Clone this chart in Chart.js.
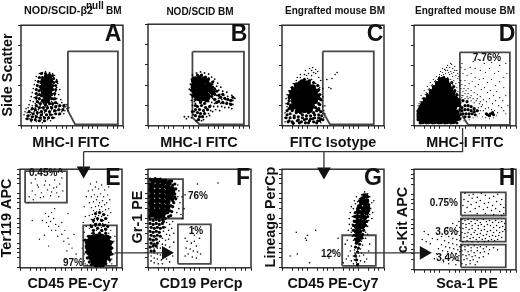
<!DOCTYPE html>
<html>
<head>
<meta charset="utf-8">
<script src="https://cdn.jsdelivr.net/npm/chart.js@4"></script>
<style>
html, body { margin: 0; padding: 0; background: #fff; }
body { position: relative; width: 520px; height: 292px; overflow: hidden; }
canvas { position: absolute; }
</style>
</head>
<body>
<script>
// events, x/y in axis units (0-100)
const aCore = [[25,49],[28,48],[23,45],[26,45],[29,45],[22,41],[25,41],[28,41],[23,37],[26,37],[29,38],[22,33],[25,33],[28,34],[24,29],[27,29],[23,25],[26,25]];
const aMid = [[20,52],[24,52],[28,51],[31,50],[18,48],[21,48],[32,47],[17,44],[20,44],[32,43],[35,44],[16,40],[19,39],[31,40],[34,40],[15,36],[18,35],[20,37],[31,36],[34,36],[15,32],[18,31],[20,30],[30,31],[33,32],[15,28],[18,27],[21,25],[30,27],[33,27],[16,24],[19,22],[24,21],[28,22],[31,22],[34,23],[15,20],[18,18],[22,18],[26,18],[30,18],[34,19],[38,20],[42,20],[11,17],[14,16],[20,14],[24,15],[28,14],[33,15],[37,16],[41,16],[8,14],[12,12],[16,13],[20,11],[25,11],[29,11],[34,12],[38,12],[7,10],[11,9],[15,9],[19,8],[23,8],[27,8],[31,8],[6,7],[10,6],[14,6],[18,5],[23,5]];
const aDust = [[18,52],[21,53],[24,54],[28,53],[31,52],[33,50],[15,49],[19,48],[32,47],[35,46],[14,45],[17,44],[20,46],[33,43],[36,42],[13,41],[16,40],[19,42],[32,40],[35,38],[12,37],[15,36],[18,38],[20,35],[31,36],[34,34],[38,36],[11,33],[14,32],[17,34],[19,31],[31,32],[33,30],[37,31],[10,29],[13,28],[16,30],[18,27],[21,29],[30,28],[32,26],[35,27],[39,26],[9,25],[12,24],[15,26],[17,23],[20,24],[22,22],[25,22],[28,23],[30,24],[33,23],[36,22],[40,23],[43,21],[8,21],[11,20],[14,22],[16,19],[19,20],[21,18],[24,19],[26,20],[29,19],[31,20],[34,18],[37,19],[39,20],[42,18],[44,19],[45,17],[5,17],[7,18],[10,16],[12,17],[15,15],[17,16],[20,15],[22,16],[25,16],[27,14],[30,16],[32,14],[35,15],[38,16],[40,14],[43,15],[4,14],[6,13],[8,15],[11,12],[13,14],[16,11],[18,13],[21,12],[23,13],[26,11],[28,12],[31,11],[34,12],[37,11],[3,11],[6,10],[9,11],[12,9],[14,10],[17,8],[19,10],[22,9],[24,8],[27,9],[30,8],[33,8],[5,7],[8,7],[11,6],[14,7],[17,5],[20,6],[23,5],[26,6],[29,5],[10,4],[15,4],[21,3],[42,12],[46,15],[45,21],[47,18],[24,40],[30,41],[21,38],[27,36],[24,32],[30,31],[21,26],[27,25],[23,21],[18,22],[14,18],[10,13],[7,9],[35,20],[31,18],[26,17],[20,18]];

const bCore = [[47,46],[51,47],[55,46],[46,42],[50,43],[54,43],[58,44],[45,38],[49,39],[53,39],[57,39],[61,40],[46,34],[50,35],[54,35],[58,35],[62,35],[47,30],[51,31],[55,31],[59,30],[64,33],[50,27],[54,27],[58,26]];
const bMid = [[49,19],[53,20],[57,18],[47,16],[51,16],[55,15],[59,16],[49,13],[52,12],[56,12],[47,10],[51,9],[54,9],[50,6],[52,23],[56,22],[44,44],[44,40],[43,35],[44,30],[47,26],[52,24],[60,27],[63,29],[66,31],[66,36],[64,38],[64,43],[60,46],[57,48],[53,50],[49,50],[45,47],[68,34],[70,30],[72,28],[74,31],[76,27],[79,26],[82,25],[84,28],[70,24],[74,23],[78,22],[82,21],[66,26],[68,23],[47,20],[61,19],[44,14]];
const bDust = [[44,50],[48,52],[52,53],[56,52],[60,51],[63,48],[66,46],[43,46],[60,47],[65,44],[69,42],[42,41],[64,41],[68,39],[72,38],[41,36],[44,35],[66,37],[70,35],[74,34],[78,33],[42,31],[44,28],[66,32],[68,30],[71,31],[75,30],[79,29],[83,30],[86,27],[43,25],[46,24],[61,28],[64,27],[67,26],[70,27],[73,26],[77,26],[81,25],[84,25],[47,22],[60,24],[63,23],[66,22],[69,23],[72,22],[75,22],[78,23],[81,22],[84,21],[62,20],[65,19],[69,19],[73,19],[76,18],[80,18],[83,17],[44,20],[46,14],[45,11],[60,12],[62,15],[58,9],[55,6],[53,5],[48,5],[40,9],[38,7],[36,9],[43,8],[61,10],[64,14],[67,16],[71,15]];

const cCore = [[20,43],[25,42],[15,40],[20,38],[25,38],[30,38],[12,35],[17,34],[22,34],[27,34],[32,34],[10,30],[15,30],[20,30],[25,30],[30,30],[34,29],[12,25],[17,25],[22,25],[27,25],[32,25],[14,20],[19,20],[24,20],[29,20],[17,16],[22,16],[27,16],[10,19]];
const cMid = [[5,11],[8,8],[12,10],[16,9],[20,11],[24,7],[28,10],[32,8],[36,11],[38,7],[6,4],[10,4],[15,5],[19,4],[23,3],[27,5],[31,4],[35,5],[14,13],[18,13],[26,13],[31,13],[5,15],[36,16],[38,14],[34,15],[7,25],[7,30],[36,22],[37,27],[10,38],[13,41],[17,43],[22,46],[27,45],[31,43],[35,40],[36,36],[37,31],[38,26],[37,21],[36,17],[8,34],[7,28],[6,22],[7,17],[10,15],[14,15],[33,18],[8,12],[12,8],[16,6],[20,8],[24,10],[28,7],[32,11],[36,8],[39,10],[4,8],[7,5],[11,2.5],[17,3],[22,6],[26,3],[30,7],[34,3],[37,5],[40,6]];
const cDust = [[18,48],[22,47],[25,47],[29,46],[14,45],[11,42],[33,42],[36,40],[9,38],[7,35],[36,34],[38,31],[5,31],[4,27],[39,25],[4,22],[5,19],[40,19],[3,13],[3,8],[3,4],[40,12],[41,8],[38,3],[41,15],[42,12],[22,51],[26,52],[29,50],[23,55],[27,57],[30,58],[33,56],[31,53],[35,54],[29,55],[33,52],[24,50],[18,51],[15,48],[38,45],[36,48],[40,37],[37,38],[42,20],[40,29],[46,38],[52,51],[49,47],[54,53],[48,37],[44,46]];

const dCore = [[27,45],[31,44],[24,41],[28,40],[33,40],[21,37],[25,36],[30,36],[35,36],[18,33],[23,32],[27,32],[32,32],[37,32],[15,28],[20,28],[25,28],[30,28],[35,28],[40,27],[12,24],[17,24],[22,24],[27,24],[32,24],[37,24],[42,22],[9,20],[14,20],[19,20],[24,20],[29,20],[34,20],[39,19],[7,16],[12,16],[17,16],[22,16],[27,16],[32,16],[37,16],[6,12],[11,12],[16,12],[21,12],[26,12],[31,12],[36,12],[41,13],[6,8],[11,8],[16,8],[21,8],[26,8],[31,8],[36,8],[42,8],[8,5],[14,5],[20,5],[26,5],[32,5],[38,5]];
const dMid = [[47,18],[50,20],[53,20],[56,19],[59,17],[47,15],[50,16],[53,16],[56,15],[59,14],[62,15],[48,12],[51,12],[54,12],[57,12],[60,11],[50,9],[54,9],[45,23],[48,25],[52,24],[72,11],[75,12],[78,11],[74,10],[77,13],[71,12],[6,3],[12,3],[18,3],[24,3],[30,3],[36,3],[42,3],[4,6],[4,11],[4,15],[6,19],[8,23],[10,27],[13,31],[16,35],[19,39],[22,43],[25,47],[29,48],[33,46],[37,43],[39,39],[40,35],[42,31],[44,26],[45,20],[45,16],[45,11],[45,7]];
const dDust = [[27,50],[30,49],[33,48],[36,46],[24,48],[21,45],[18,41],[15,37],[12,33],[9,28],[6,24],[4,20],[3,14],[3,9],[28,53],[31,52],[35,51],[38,49],[25,51],[22,49],[19,46],[16,43],[13,39],[10,35],[7,30],[39,45],[41,42],[38,41],[42,38],[39,37],[43,34],[44,30],[41,33],[30,56],[33,55],[36,54],[39,53],[35,58],[38,57],[28,57],[33,60],[37,61],[40,59],[36,62],[32,58],[42,55],[41,50],[43,47],[44,43],[45,40],[46,37],[48,34],[50,32],[47,30],[52,29],[55,28],[58,27],[61,25],[64,22],[66,19],[65,15],[64,12],[62,9],[58,8],[54,6],[49,5],[47,8],[44,11],[45,5],[68,15],[70,17],[73,18],[76,16],[79,15],[82,13],[81,10],[78,8],[74,7],[70,8],[67,9],[50,40],[53,37],[56,35],[59,33],[62,31],[65,29],[68,26],[71,24],[74,27],[77,22],[80,25],[83,20],[86,18],[88,15],[50,45],[54,42],[57,44],[60,39],[63,41],[66,36],[69,38],[72,33],[75,35],[78,30],[81,34],[84,28],[87,25],[52,50],[56,52],[60,48],[64,46],[68,47],[72,43],[76,46],[80,40],[84,44],[88,38],[90,30],[55,58],[60,57],[65,55],[70,53],[74,57],[79,52],[83,54],[88,48],[58,64],[63,66],[69,62],[76,63],[84,60],[90,62],[91,52],[92,20],[90,12],[46,58],[48,52],[47,62],[50,56],[26,54],[29,51],[31,55],[34,53],[37,52],[40,55],[43,52],[44,49],[46,45],[47,41],[49,37],[51,35],[53,32],[56,30],[48,30],[50,27],[53,27],[56,25],[59,23],[62,27],[63,18],[65,24],[67,21],[47,28],[46,26],[20,44],[17,40],[14,36],[11,31],[8,27],[5,22],[23,46],[25,49]];

const eCore = [[70,30],[75,31],[80,31],[85,30],[67,26],[72,26],[77,26],[82,26],[87,25],[67,21],[72,21],[77,21],[82,21],[87,20],[68,16],[73,16],[78,16],[83,16],[87,15],[70,11],[75,11],[80,11],[85,11],[72,7],[77,7],[82,7],[75,3.5],[80,3.5]];
const eMid = [[64,28],[65,22],[65,16],[66,10],[68,6],[70,3],[78,2.5],[84,4],[88,8],[90,14],[90,20],[90,26],[88,31],[84,35],[78,35],[72,35],[67,32],[72,38],[76,40],[80,38],[84,39],[70,42],[74,44],[78,44],[82,43],[86,42],[72,48],[76,50],[80,48],[84,50],[74,55],[78,56],[82,54]];
const eDust = [[72,37],[75,38],[78,36],[81,37],[84,36],[87,35],[70,35],[68,40],[71,41],[74,42],[77,40],[80,41],[83,40],[86,41],[89,38],[69,44],[72,46],[75,45],[78,44],[81,45],[84,44],[87,46],[70,49],[73,50],[76,48],[79,49],[82,48],[85,50],[68,53],[71,54],[74,52],[77,53],[80,52],[83,54],[86,53],[72,58],[75,57],[78,59],[81,57],[84,59],[70,61],[74,62],[77,63],[80,62],[83,64],[87,60],[89,56],[68,66],[72,67],[75,69],[78,66],[81,68],[85,66],[88,69],[70,72],[73,74],[76,72],[79,75],[82,72],[86,74],[67,78],[71,79],[74,82],[77,80],[80,84],[83,79],[87,82],[69,85],[75,87],[65,72],[63,62],[64,52],[65,42],[62,46],[63,36],[62,28],[61,20],[63,14],[60,9],[63,7],[64,4],[66,3],[68,5],[88,6],[90,9],[92,14],[91,20],[92,27],[93,32],[90,4],[85,4],[69,3],[22,48],[25,55],[28,52],[31,56],[26,46],[30,47],[33,50],[35,44],[28,42],[31,38],[35,38],[38,42],[41,46],[37,32],[41,34],[44,38],[47,30],[43,27],[48,24],[51,20],[46,17],[44,9],[53,34],[55,14],[24,33],[19,29],[28,22],[12,48],[8,66],[34,60],[47,55],[9,72],[12,78],[15,74],[18,82],[21,76],[24,84],[27,79],[30,73],[33,81],[36,76],[39,85],[42,78],[11,86],[15,90],[20,71],[25,88],[29,84],[34,89],[38,72],[41,91],[17,84],[23,72],[31,77],[36,82],[13,69]];

const fCore = [[5,88],[10,88],[15,87],[20,86],[4,83],[9,83],[14,83],[19,82],[23,80],[4,78],[9,78],[14,78],[19,77],[23,76],[4,73],[9,73],[14,73],[19,72],[23,71],[4,68],[9,68],[14,68],[19,67],[4,63],[9,63],[14,63],[19,62],[4,58],[9,58],[14,58],[18,57],[4,54],[9,53],[14,53]];
const fMid = [[2,49],[5,48],[8,49],[11,48],[14,49],[17,50],[20,52],[2,45],[5,44],[8,45],[11,44],[14,45],[3,41],[6,40],[9,41],[12,40],[15,41],[2,37],[5,36],[8,37],[11,36],[3,33],[6,32],[9,33],[12,32],[2,29],[5,28],[8,29],[3,25],[6,24],[9,25],[23,88],[26,85],[27,80],[26,75],[27,70],[25,66],[24,62],[23,57],[22,53],[24,84],[25,78],[26,72],[24,68],[22,63],[21,58],[2,90],[7,90.5],[12,90],[17,89],[21,88],[1.5,85],[1.5,80],[1.5,72],[1.5,65],[1.5,58],[1.5,52],[12,56],[7,56],[16,55],[7,51],[11,51],[15,47],[2,21],[5,22],[8,22],[3,17],[6,17]];
const fDust = [[29,84],[30,78],[29,72],[31,66],[30,60],[28,56],[32,54],[18,46],[21,44],[24,47],[17,41],[20,38],[23,40],[15,37],[18,34],[21,33],[14,30],[17,28],[20,29],[11,27],[14,24],[17,23],[21,21],[12,20],[15,18],[18,16],[3,21],[6,19],[9,20],[3,17],[6,15],[9,14],[12,13],[3,12],[6,10],[9,9],[13,8],[3,7],[6,5],[10,4],[14,4],[18,9],[21,6],[24,12],[25,26],[25,35],[48,85],[68,86],[33,72],[36,74],[35,60],[33,50],[44,40],[36,30],[38,27],[42,25],[45,27],[47,22],[41,19],[44,17],[48,16],[39,14],[43,11],[47,10],[37,20],[45,33],[50,30],[51,14],[36,12]];

const gCore = [[82,73],[79,70],[83,68],[78,66],[82,64],[76,62],[80,60],[84,61],[75,57],[79,56],[83,56],[74,52],[78,52],[81,51],[74,47],[77,47],[80,46],[73,42],[76,42],[79,42],[73,37],[76,37],[74,33],[77,32],[74,28]];
const gMid = [[84,72],[80,74],[76,68],[81,67],[85,64],[74,60],[72,56],[85,58],[71,52],[84,52],[71,47],[83,47],[70,43],[82,43],[70,38],[80,38],[71,33],[79,34],[72,29],[76,28],[78,30],[73,25],[76,24],[72,21],[75,20],[74,16],[72,12],[73,8],[74,3]];
const gDust = [[84,75],[86,72],[81,77],[78,74],[76,70],[74,67],[72,65],[70,60],[71,55],[69,52],[70,48],[69,44],[68,40],[68,36],[69,32],[70,28],[72,25],[78,27],[80,30],[82,36],[84,42],[85,48],[86,54],[87,60],[88,66],[73,72],[71,68],[68,62],[67,56],[66,50],[66,44],[65,38],[88,50],[89,56],[90,68],[84,34],[82,30],[79,23],[76,24],[73,21],[71,18],[74,18],[77,19],[72,14],[75,15],[70,12],[73,11],[76,12],[71,8],[74,8],[77,7],[73,5],[75,4],[70,4],[68,7],[67,17],[65,12],[63,9],[62,24],[64,28],[80,13],[83,9],[85,17],[81,6],[68,22],[78,15],[86,24],[23,30],[24,28],[25,33],[14,36],[33,38],[15,14],[27,5],[8,12],[50,17],[55,30],[46,10],[60,5]];

const hDust = [[50,76],[54,74],[58,75],[62,72],[66,76],[70,74],[74,71],[78,73],[82,75],[86,70],[49,70],[53,68],[57,71],[61,67],[65,69],[69,66],[73,67],[77,64],[81,68],[85,65],[88,62],[48,64],[52,62],[56,65],[60,61],[64,63],[68,60],[72,62],[76,59],[80,61],[84,58],[88,56],[50,57],[55,58],[62,56],[70,56],[78,55],[86,54],
[47,50],[50,49],[53,50],[56,48],[59,50],[62,49],[65,47],[68,50],[71,48],[74,49],[77,47],[80,49],[83,47],[86,48],[89,46],[48,46],[51,45],[54,46],[57,44],[60,46],[63,44],[66,45],[69,43],[72,45],[75,44],[78,42],[81,44],[84,42],[87,43],[48,41],[51,42],[54,40],[57,41],[60,39],[63,41],[66,39],[69,40],[72,38],[75,39],[78,37],[81,39],[84,37],[87,38],[89,40],[47,37],[50,36],[53,37],[56,35],[59,37],[62,35],[65,36],[68,34],[71,35],[74,33],[77,34],[80,33],[83,34],[86,32],[49,32],[52,33],[55,31],[58,32],[61,30],[64,32],[67,30],[70,31],[73,29],[76,30],[79,29],[82,30],[48,28],[52,29],[57,28],[63,28],[69,28],
[47,24],[50,23],[53,24],[56,22],[59,24],[62,22],[65,23],[68,21],[71,23],[74,20],[78,22],[82,20],[47,19],[50,20],[53,18],[56,19],[59,17],[62,19],[65,17],[69,18],[73,16],[48,15],[51,14],[54,15],[57,13],[60,14],[64,12],[68,13],[49,10],[52,11],[55,9],[58,10],[62,8],[47,6],[51,5],[55,6],[60,5],
[44,48],[42,44],[45,42],[40,40],[43,38],[37,36],[41,35],[45,34],[34,33],[38,31],[42,30],[45,29],[30,29],[34,27],[38,26],[42,25],[45,23],[27,25],[31,23],[35,22],[39,21],[43,20],[45,18],[24,21],[28,19],[33,18],[37,17],[41,16],[44,14],[22,16],[26,15],[31,13],[36,12],[40,11],[44,9],[18,31],[14,35],[10,38],[16,26],[12,28],[27,33],[23,30],[29,8],[34,6],[41,5],[8,30],[33,42],[38,46],[20,11]];

const gateA = [[[46,74],[95,74],[95,1.5],[53,1.5],[46,15],[46,74]]];
const gateB = [[[44,73],[95,73],[95,1.5],[51,1.5],[44,8],[44,73]]];
const gateC = [[[40,74],[90,74],[90,1.5],[47,1.5],[40,14],[40,74]]];
const gateD = [[[45,73],[94,73],[94,1],[53,1],[45,14],[45,73]]];
const gateE = [[[5,66],[46,66],[46,98],[5,98],[5,66]], [[62,2],[95,2],[95,43],[62,43],[62,2]]];
const gateF = [[[1,50],[34,50],[34,90],[1,90],[1,50]], [[29,4],[61,4],[61,44],[29,44],[29,4]]];
const gateG = [[[59,2],[92,2],[92,33],[59,33],[59,2]]];
const gateH = [[[46,54],[90,54],[90,77],[46,77],[46,54]], [[46,28],[90,28],[90,51],[46,51],[46,28]], [[46,2.5],[90,2.5],[90,25],[46,25],[46,2.5]]];

const scatterTicks = [0, 20, 40, 60, 80, 100];
const logTicks = [0, 10, 16, 20, 25, 35, 41, 45, 50, 60, 66, 70, 75, 85, 91, 95, 100];

const panelBoxes = [
    { left: 21, top: 20, w: 104, h: 108, core: aCore, coreR: 2.6, mid: aMid, dust: aDust, dustR: 0.8, gates: gateA, yTicks: scatterTicks },
    { left: 148, top: 19, w: 103, h: 109, core: bCore, coreR: 2.8, mid: bMid, dust: bDust, dustR: 0.9, gates: gateB, yTicks: scatterTicks },
    { left: 282, top: 20, w: 104, h: 108, core: cCore, coreR: 3.4, mid: cMid, dust: cDust, dustR: 0.8, gates: gateC, yTicks: scatterTicks },
    { left: 414, top: 20, w: 104, h: 108, core: dCore, coreR: 3.5, mid: dMid, dust: dDust, dustR: 0.6, gates: gateD, yTicks: scatterTicks },
    { left: 20, top: 164, w: 104, h: 106, core: eCore, coreR: 3.4, mid: eMid, dust: eDust, dustR: 0.7, gates: gateE, yTicks: logTicks },
    { left: 148, top: 164, w: 105, h: 106, core: fCore, coreR: 3, mid: fMid, dust: fDust, dustR: 0.8, gates: gateF, yTicks: logTicks },
    { left: 282, top: 164, w: 104, h: 106, core: gCore, coreR: 2.6, mid: gMid, dust: gDust, dustR: 0.8, gates: gateG, yTicks: logTicks },
    { left: 414, top: 164, w: 104, h: 108, core: [], coreR: 0, dust: hDust, dustR: 0.75, gates: gateH, yTicks: logTicks }
];

// connectors between the panels, in page pixels on the overlay scales
const wires = [
    [[78, 152], [469, 152], [469, 127]],
    [[78, 152], [78, 170]],
    [[326, 152], [326, 170]],
    [[110, 259], [160, 259]],
    [[357, 259], [425, 259]]
];
const arrowsDown = [[78, 172], [326, 173]];
const arrowsRight = [[163, 259], [429, 259]];

// [text, x, y, font px, align, rotated]
const captions = [
    ['NOD/SCID-β2', 24, 14, 10.8, 'left'], ['null', 86, 9, 10, 'left'], ['BM', 106, 14, 10, 'left'],
    ['NOD/SCID BM', 200, 15, 10, 'center'], ['Engrafted mouse BM', 335, 14, 10, 'center'], ['Engrafted mouse BM', 465, 14, 10, 'center'],
    ['A', 113, 41, 23, 'center'], ['B', 239, 41, 23, 'center'], ['C', 375, 41, 23, 'center'], ['D', 507, 41, 23, 'center'],
    ['E', 113, 185, 23, 'center'], ['F', 243, 185, 23, 'center'], ['G', 373, 185, 23, 'center'], ['H', 507, 185, 23, 'center'],
    ['MHC-I FITC', 71, 147, 14.4, 'center'], ['MHC-I FITC', 199, 147, 14.4, 'center'], ['FITC Isotype', 333, 147, 14.4, 'center'], ['MHC-I FITC', 465, 147, 14.4, 'center'],
    ['CD45 PE-Cy7', 73, 288, 14.4, 'center'], ['CD19 PerCp', 201, 288, 14.4, 'center'], ['CD45 PE-Cy7', 333, 288, 14.4, 'center'], ['Sca-1 PE', 467, 288, 14.4, 'center'],
    ['Side Scatter', 12, 75, 14.4, 'center', true], ['Ter119 APC', 11, 218, 14.4, 'center', true], ['Gr-1 PE', 142, 217, 14.4, 'center', true], ['Lineage PerCp', 275, 217, 14.4, 'center', true], ['c-Kit APC', 407, 220, 14.4, 'center', true],
    ['7.76%', 487, 61, 10, 'center'], ['0.45%^', 29, 176, 10, 'left'], ['97%', 83, 266, 10, 'right'], ['76%', 188, 199, 10, 'left'], ['1%', 196, 234, 10, 'center'],
    ['12%', 341, 257, 10, 'right'], ['0.75%', 458, 206, 10, 'right'], ['3.6%', 458, 235, 10, 'right'], ['3.4%', 459, 261, 10, 'right']
];

const FONT = '"Liberation Sans", Arial, Helvetica, sans-serif';
const INK = '#111';
const GATE = '#484848';
const pts = a => a.map(([x, y]) => ({ x, y }));

function addCanvas(left, top, w, h) {
    const c = document.createElement('canvas');
    c.width = w;
    c.height = h;
    c.style.left = left + 'px';
    c.style.top = top + 'px';
    c.style.width = w + 'px';
    c.style.height = h + 'px';
    document.body.appendChild(c);
    return c;
}

const frame = {
    id: 'frame',
    afterDatasetsDraw(chart) {
        const a = chart.chartArea, ctx = chart.ctx;
        ctx.save();
        ctx.strokeStyle = '#222';
        ctx.lineWidth = 1.4;
        ctx.strokeRect(a.left, a.top, a.right - a.left, a.bottom - a.top);
        ctx.restore();
    }
};

panelBoxes.forEach(p => {
    const mL = 5, mT = 2, mR = 2, mB = 5;
    const datasets = [
        { data: pts(p.dust), pointRadius: p.dustR, backgroundColor: '#000', borderWidth: 0 },
        { data: pts(p.mid || []), pointRadius: 1.6, backgroundColor: '#000', borderWidth: 0 },
        { data: pts(p.core), pointRadius: p.coreR, backgroundColor: '#000', borderWidth: 0 }
    ];
    p.gates.forEach(g => datasets.push({
        data: pts(g), showLine: true, pointRadius: 0, borderColor: GATE, borderWidth: 1.8, tension: 0, fill: false
    }));
    const axis = (values) => ({
        type: 'linear',
        min: 0,
        max: 100,
        afterBuildTicks: s => { s.ticks = values.map(value => ({ value })); },
        ticks: { callback: () => '', autoSkip: false, maxRotation: 0, padding: 0 },
        grid: { drawOnChartArea: false, tickLength: 3, tickWidth: 1, tickColor: '#222' },
        border: { display: false }
    });
    new Chart(addCanvas(p.left - mL, p.top - mT, p.w + mL + mR, p.h + mT + mB), {
        type: 'scatter',
        data: { datasets },
        options: {
            responsive: false,
            animation: false,
            devicePixelRatio: 1,
            layout: { padding: { top: mT, right: mR, left: 0, bottom: 0 } },
            plugins: { legend: { display: false }, tooltip: { enabled: false } },
            scales: {
                x: { ...axis(logTicks), afterFit: s => { s.height = mB; } },
                y: { ...axis(p.yTicks), afterFit: s => { s.width = mL; } }
            }
        },
        plugins: [frame]
    });
});

// page-sized layer on top for the connectors and all the lettering
const lettering = {
    id: 'lettering',
    afterDraw(chart) {
        const ctx = chart.ctx;
        captions.forEach(([text, x, y, size, align, rotated]) => {
            ctx.save();
            ctx.fillStyle = INK;
            ctx.font = `bold ${size}px ${FONT}`;
            ctx.textAlign = align;
            ctx.textBaseline = 'alphabetic';
            ctx.translate(x, y);
            if (rotated) ctx.rotate(-Math.PI / 2);
            ctx.fillText(text, 0, 0);
            ctx.restore();
        });
    }
};

const hiddenAxis = max => ({ type: 'linear', min: 0, max, display: false });
new Chart(addCanvas(0, 0, 520, 292), {
    type: 'scatter',
    data: {
        datasets: [
            ...wires.map(w => ({ data: pts(w), showLine: true, pointRadius: 0, borderColor: '#333', borderWidth: 1.3, tension: 0 })),
            { data: pts(arrowsDown), pointStyle: 'triangle', rotation: 180, pointRadius: 8, backgroundColor: '#111', borderWidth: 0 },
            { data: pts(arrowsRight), pointStyle: 'triangle', rotation: 90, pointRadius: 8, backgroundColor: '#111', borderWidth: 0 }
        ]
    },
    options: {
        responsive: false,
        animation: false,
        devicePixelRatio: 1,
        layout: { padding: 0 },
        plugins: { legend: { display: false }, tooltip: { enabled: false } },
        scales: { x: hiddenAxis(520), y: { ...hiddenAxis(292), reverse: true } }
    },
    plugins: [lettering]
});
</script>
</body>
</html>
